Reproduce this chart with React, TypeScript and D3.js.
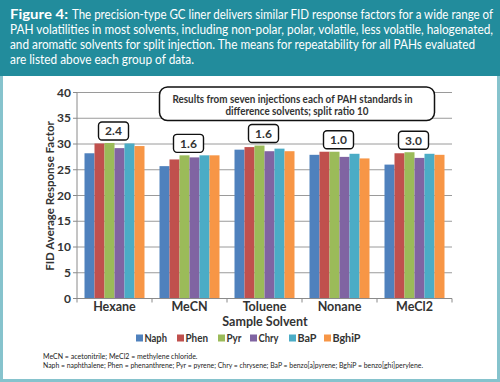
import React from "react";
import * as d3 from "d3";

const categories = ["Hexane", "MeCN", "Toluene", "Nonane", "MeCl2"];
const seriesNames = ["Naph", "Phen", "Pyr", "Chry", "BaP", "BghiP"];
const naph = [28.2, 25.7, 28.9, 27.9, 26.0];
const phen = [30.1, 27.0, 29.4, 28.5, 28.2];
const pyr = [30.2, 27.8, 29.7, 28.5, 28.4];
const chry = [29.2, 27.4, 28.6, 27.5, 27.3];
const bap = [30.1, 27.8, 29.1, 28.1, 28.1];
const bghip = [29.6, 27.8, 28.6, 27.2, 27.9];
const repeatability = ["2.4", "1.6", "1.6", "1.0", "3.0"];
const yTicks = [0, 5, 10, 15, 20, 25, 30, 35, 40];
const colors = ["#4f81bd", "#c0504d", "#9bbb59", "#8064a2", "#4bacc6", "#f79646"];

const seriesValues = [naph, phen, pyr, chry, bap, bghip];

const headerLines = [
  { text: "The precision-type GC liner delivers similar FID response factors for a wide range of", x: 72, w: 421 },
  { text: "PAH volatilities in most solvents, including non-polar, polar, volatile, less volatile, halogenated,", x: 10, w: 483 },
  { text: "and aromatic solvents for split injection. The means for repeatability for all PAHs evaluated", x: 10, w: 465 },
  { text: "are listed above each group of data.", x: 10, w: 184 },
];

const legendX = [136, 177, 218, 250, 289, 324];
const legendW = [22.5, 22.5, 15, 20, 19, 28];

export default function App() {
  const W = 500, H = 382;
  const x = d3.scaleBand<string>().domain(categories).range([77, 452]).padding(0);
  const inner = d3.scaleBand<string>().domain(seriesNames).range([7.5, 67.5]).padding(0);
  const y = d3.scaleLinear().domain([0, 40]).range([298.5, 92.5]);
  const font = "Lato, 'Open Sans', sans-serif";
  const dark = "#333";

  return (
    <svg width={W} height={H} style={{ position: "absolute", left: 0, top: 0 }} fontFamily={font}>
      <rect x={0} y={0} width={W} height={H} fill="#86c3cd" />
      <rect x={3} y={76} width={494} height={303} fill="#ffffff" />
      <rect x={0} y={0} width={W} height={76} fill="#228c9c" />
      <text x={10} y={18.5} fill="#fff" fontSize={13.5} fontWeight="bold" textLength={58} lengthAdjust="spacingAndGlyphs">Figure 4:</text>
      {headerLines.map((l, i) => (
        <text key={i} x={l.x} y={18.5 + i * 15.3} fill="#fff" fontSize={13.5} textLength={l.w} lengthAdjust="spacingAndGlyphs">
          {l.text}
        </text>
      ))}

      {/* gridlines */}
      {yTicks.map((t) => (
        <g key={t}>
          {t > 0 && <line x1={77} x2={452} y1={y(t)} y2={y(t)} stroke="#9a9a9a" strokeWidth={1} />}
          <line x1={73} x2={77} y1={y(t)} y2={y(t)} stroke="#8a8a8a" strokeWidth={1} />
          <text x={71} y={y(t) + 4} textAnchor="end" fontSize={12} fill={dark} fontWeight="bold">{t}</text>
        </g>
      ))}
      <line x1={77} x2={77} y1={y(40)} y2={y(0)} stroke="#8a8a8a" strokeWidth={1} />

      {/* bars */}
      {categories.map((c, ci) => (
        <g key={c} transform={`translate(${x(c)},0)`}>
          {seriesNames.map((s, si) => {
            const v = seriesValues[si][ci];
            return (
              <rect key={s} x={inner(s)} y={y(v)} width={inner.bandwidth()} height={y(0) - y(v)} fill={colors[si]} />
            );
          })}
        </g>
      ))}

      {/* x axis */}
      <line x1={77} x2={452} y1={y(0)} y2={y(0)} stroke="#8a8a8a" strokeWidth={1} />
      {[...categories.map((c) => x(c) as number), 452].map((px, i) => (
        <line key={i} x1={px} x2={px} y1={y(0)} y2={y(0) + 4} stroke="#8a8a8a" strokeWidth={1} />
      ))}
      {categories.map((c) => (
        <text key={c} x={(x(c) as number) + x.bandwidth() / 2} y={311} textAnchor="middle" fontSize={12.5} fontWeight="bold" fill={dark}>{c}</text>
      ))}
      <text x={265} y={326} textAnchor="middle" fontSize={12.5} fontWeight="bold" fill={dark}>Sample Solvent</text>
      <text transform={`translate(54,${196}) rotate(-90)`} textAnchor="middle" fontSize={11.5} fontWeight="bold" fill={dark}>FID Average Response Factor</text>

      {/* repeatability boxes */}
      {categories.map((c, ci) => {
        const mx = d3.max(seriesValues, (arr) => arr[ci]) as number;
        const bottom = y(mx) - 3;
        const cx = (x(c) as number) + x.bandwidth() / 2 - 1;
        return (
          <g key={c}>
            <rect x={cx - 15} y={bottom - 18} width={30} height={18} rx={3.5} fill="#fff" stroke="#111" strokeWidth={1.4} />
            <text x={cx} y={bottom - 4.5} textAnchor="middle" fontSize={12} fontWeight="bold" fill={dark}>{repeatability[ci]}</text>
          </g>
        );
      })}

      {/* annotation box */}
      <rect x={159.5} y={87} width={275} height={33.5} rx={8} fill="#fff" stroke="#111" strokeWidth={1.5} />
      <text x={292.5} y={102.5} textAnchor="middle" fontSize={11.5} fontWeight="bold" fill={dark} textLength={240} lengthAdjust="spacingAndGlyphs">Results from seven injections each of PAH standards in</text>
      <text x={297} y={114.5} textAnchor="middle" fontSize={11.5} fontWeight="bold" fill={dark} textLength={143} lengthAdjust="spacingAndGlyphs">difference solvents; split ratio 10</text>

      {/* legend */}
      {seriesNames.map((s, si) => (
        <g key={s}>
          <rect x={legendX[si]} y={334.5} width={7} height={7} fill={colors[si]} />
          <text x={legendX[si] + 8.5} y={342} fontSize={12} fontWeight="bold" fill={dark} textLength={legendW[si]} lengthAdjust="spacingAndGlyphs">{s}</text>
        </g>
      ))}

      {/* footnotes */}
      <text x={43} y={359} fontSize={7} fill="#222">MeCN = acetonitrile; MeCl2 = methylene chloride.</text>
      <text x={43} y={368} fontSize={7} fill="#222" textLength={380} lengthAdjust="spacingAndGlyphs">Naph = naphthalene; Phen = phenanthrene; Pyr = pyrene; Chry = chrysene; BaP = benzo[a]pyrene; BghiP = benzo[ghi]perylene.</text>
    </svg>
  );
}
